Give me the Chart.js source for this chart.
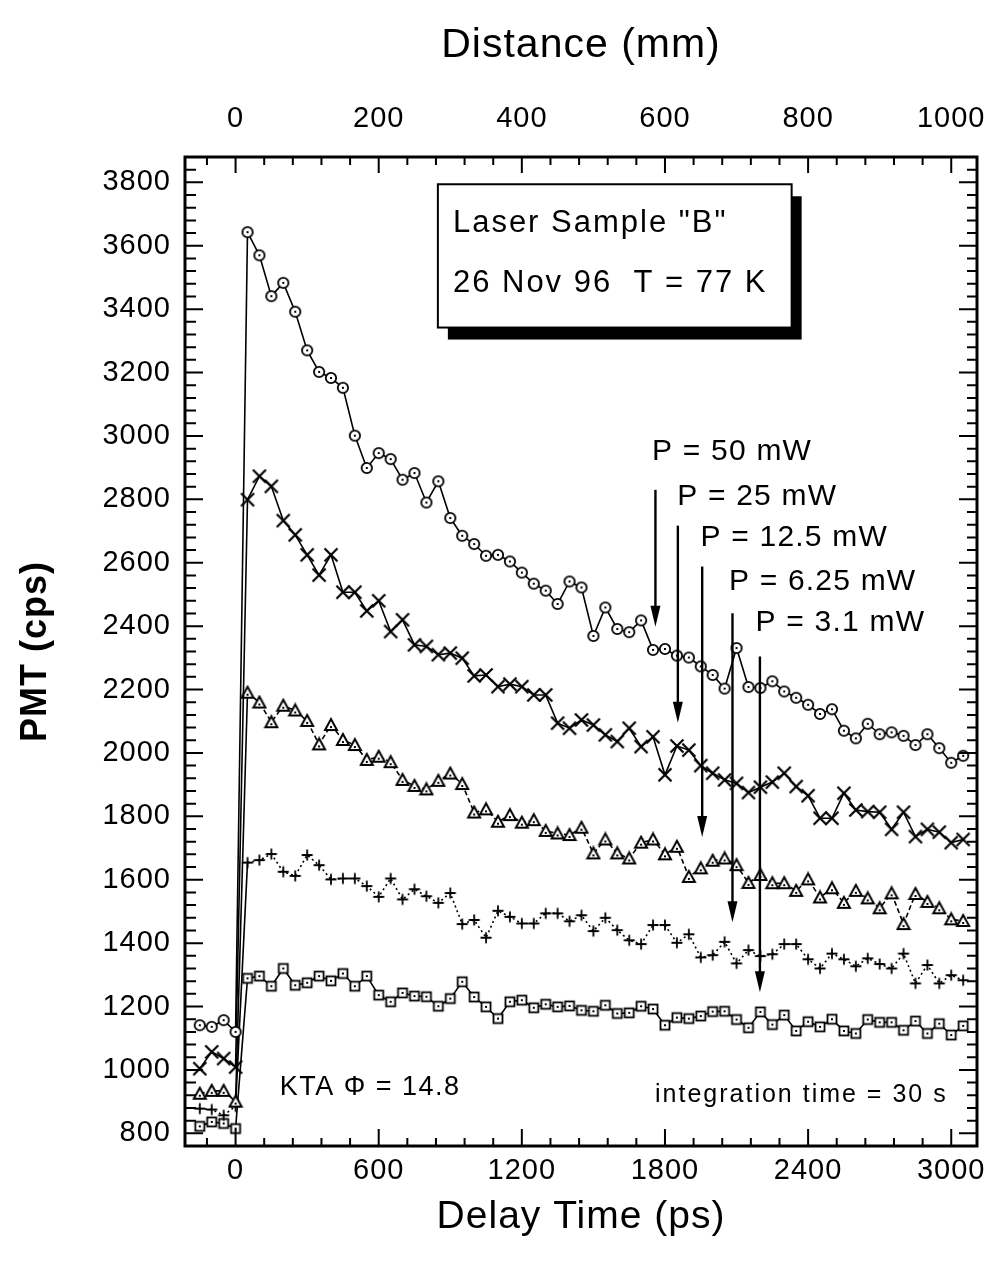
<!DOCTYPE html>
<html><head><meta charset="utf-8">
<script src="https://cdn.jsdelivr.net/npm/chart.js@4/dist/chart.umd.min.js"></script>
<style>html,body{margin:0;padding:0;background:#fff}canvas{display:block}</style>
</head><body>
<canvas id="c" width="992" height="1268"></canvas>
<script>
// ---------------- DATA ----------------
const delays = [-150,-100,-50,0,50,100,150,200,250,300,350,400,450,500,550,600,650,700,750,800,850,900,950,1000,1050,1100,1150,1200,1250,1300,1350,1400,1450,1500,1550,1600,1650,1700,1750,1800,1850,1900,1950,2000,2050,2100,2150,2200,2250,2300,2350,2400,2450,2500,2550,2600,2650,2700,2750,2800,2850,2900,2950,3000,3050];
const p50 = [1141,1136,1157,1120,3643,3570,3441,3483,3392,3270,3202,3183,3152,3001,2899,2946,2927,2862,2883,2790,2857,2741,2685,2659,2622,2625,2604,2569,2534,2512,2470,2541,2522,2369,2459,2391,2381,2418,2325,2328,2307,2301,2273,2246,2203,2331,2208,2205,2226,2194,2174,2152,2123,2138,2070,2046,2092,2059,2065,2054,2025,2059,2015,1969,1991];
const p25 = [1004,1057,1036,1009,2799,2873,2841,2733,2688,2625,2561,2625,2507,2507,2448,2480,2383,2420,2341,2336,2310,2315,2299,2243,2246,2209,2217,2209,2183,2183,2094,2078,2104,2088,2057,2036,2078,2020,2051,1931,2022,2009,1960,1936,1915,1904,1875,1892,1908,1936,1894,1865,1794,1794,1873,1820,1815,1813,1759,1813,1736,1759,1750,1717,1727];
const p12 = [925,934,934,900,2190,2159,2097,2149,2134,2101,2027,2088,2041,2025,1978,1988,1971,1915,1896,1885,1912,1935,1902,1812,1822,1783,1804,1780,1788,1754,1746,1741,1764,1683,1727,1683,1667,1717,1727,1680,1704,1609,1636,1660,1667,1646,1590,1615,1589,1589,1565,1601,1544,1573,1527,1565,1541,1510,1557,1460,1555,1530,1510,1475,1470];
const p6 = [878,875,857,885,1654,1662,1681,1625,1612,1678,1646,1601,1604,1604,1580,1546,1604,1538,1570,1548,1527,1558,1460,1473,1417,1502,1483,1462,1462,1494,1494,1469,1488,1438,1480,1441,1409,1397,1457,1457,1401,1428,1355,1362,1404,1336,1378,1359,1365,1397,1397,1349,1320,1367,1349,1327,1352,1334,1320,1367,1273,1331,1273,1299,1283];
const p3 = [822,836,831,815,1289,1296,1264,1320,1267,1275,1296,1281,1304,1264,1296,1236,1215,1243,1233,1231,1201,1225,1278,1230,1199,1162,1215,1220,1196,1207,1199,1202,1188,1185,1204,1178,1180,1201,1192,1141,1165,1162,1170,1184,1185,1159,1133,1183,1143,1173,1123,1152,1136,1160,1123,1115,1159,1150,1150,1125,1154,1115,1146,1110,1139];

const xTicksBottom = [0,600,1200,1800,2400,3000];
const xTicksTop = [0,200,400,600,800,1000];
const yTicks = [800,1000,1200,1400,1600,1800,2000,2200,2400,2600,2800,3000,3200,3400,3600,3800];

const arrowLabels = ['P = 50 mW','P = 25 mW','P = 12.5 mW','P = 6.25 mW','P = 3.1 mW'];
const labelX = [1746,1851,1949,2068,2180];
const labelY = [2949,2809,2678,2541,2410];
const arrowX = [1760,1854,1956,2083,2198];
const arrowTop = [2830,2717,2588,2441,2304];
const arrowTip = [2398,2095,1735,1466,1245];

const boxLines = ['Laser Sample "B"','26 Nov 96  T = 77 K'];
const boxX = [848,2331];
const boxY = [3794,3342];
const boxTextX = 911;
const boxTextY = [3670,3481];
const ktaText = 'KTA \u03A6 = 14.8';
const ktaPos = [185,945];
const integText = 'integration time = 30 s';
const integPos = [2985,920];

// ---------------- STYLE ----------------
const FONT = '"Liberation Sans", Arial, Helvetica, sans-serif';
function mk(size, draw){const c=document.createElement('canvas');c.width=size;c.height=size;const g=c.getContext('2d');g.strokeStyle='#000';g.fillStyle='#fff';draw(g,size/2);return c;}
const circleImg = mk(14,(g,m)=>{g.lineWidth=1.8;g.beginPath();g.arc(m,m,5.2,0,2*Math.PI);g.fill();g.stroke();g.fillStyle='#000';g.fillRect(m-1,m-1,2,2);});
const crossImg = mk(16,(g,m)=>{g.lineWidth=2.2;g.beginPath();g.moveTo(m-6.5,m-6.5);g.lineTo(m+6.5,m+6.5);g.moveTo(m+6.5,m-6.5);g.lineTo(m-6.5,m+6.5);g.stroke();});
const triImg = mk(16,(g,m)=>{g.lineWidth=2;g.beginPath();g.moveTo(m,m-6);g.lineTo(m+6,m+5);g.lineTo(m-6,m+5);g.closePath();g.fill();g.stroke();g.fillStyle='#000';g.fillRect(m-1,m+1,2,2);});
const plusImg = mk(14,(g,m)=>{g.lineWidth=1.8;g.beginPath();g.moveTo(m-5.5,m);g.lineTo(m+5.5,m);g.moveTo(m,m-5.5);g.lineTo(m,m+5.5);g.stroke();});
const sqImg = mk(14,(g,m)=>{g.lineWidth=1.8;g.fillRect(m-4.5,m-4.5,9,9);g.strokeRect(m-4.5,m-4.5,9,9);g.fillStyle='#000';g.fillRect(m-1,m-1,2,2);});

function ds(vals, img, dash){
  return {
    data: delays.map((d,i)=>({x:d,y:vals[i]})),
    xAxisID:'x', yAxisID:'y',
    borderColor:'#000', borderWidth:1.6, tension:0, fill:false,
    pointStyle:img, pointRadius:6, pointHoverRadius:6,
    segment: dash ? {borderDash: c => (c.p0DataIndex === 3 ? [] : dash)} : undefined
  };
}

const tickFont = {family:FONT, size:29};
const numCb = v => String(v);
const noPadH = s => { s.paddingLeft = 0; s.paddingRight = 0; };
const noPadV = s => { s.paddingTop = 0; s.paddingBottom = 0; };

const framePlugin = {
  id:'frame',
  beforeDraw(chart){ chart.ctx.letterSpacing='1px'; },
  afterDatasetsDraw(chart){
    const {ctx, scales:{x,y}} = chart;
    ctx.save();
    ctx.letterSpacing='0px';
    // info box with shadow
    const bx1=x.getPixelForValue(boxX[0]), bx2=x.getPixelForValue(boxX[1]);
    const by1=y.getPixelForValue(boxY[0]), by2=y.getPixelForValue(boxY[1]);
    ctx.fillStyle='#000';
    ctx.fillRect(bx1+10, by1+12, bx2-bx1, by2-by1);
    ctx.fillStyle='#fff';
    ctx.fillRect(bx1, by1, bx2-bx1, by2-by1);
    ctx.strokeStyle='#000'; ctx.lineWidth=2;
    ctx.strokeRect(bx1, by1, bx2-bx1, by2-by1);
    ctx.fillStyle='#000';
    ctx.textBaseline='middle'; ctx.textAlign='left';
    ctx.font='31px '+FONT; ctx.letterSpacing='2px';
    boxLines.forEach((t,i)=>ctx.fillText(t, x.getPixelForValue(boxTextX), y.getPixelForValue(boxTextY[i])));
    // arrows
    ctx.letterSpacing='1.2px';
    ctx.font='30px '+FONT;
    arrowLabels.forEach((t,i)=>ctx.fillText(t, x.getPixelForValue(labelX[i]), y.getPixelForValue(labelY[i])));
    ctx.lineWidth=2.4;
    arrowX.forEach((ax,i)=>{
      const px=x.getPixelForValue(ax), pt=y.getPixelForValue(arrowTop[i]), pb=y.getPixelForValue(arrowTip[i]);
      ctx.beginPath(); ctx.moveTo(px,pt); ctx.lineTo(px,pb-18); ctx.stroke();
      ctx.beginPath(); ctx.moveTo(px-5,pb-21); ctx.lineTo(px+5,pb-21); ctx.lineTo(px,pb); ctx.closePath(); ctx.fill();
    });
    // notes
    ctx.font='27px '+FONT; ctx.letterSpacing='1.5px';
    ctx.fillText(ktaText, x.getPixelForValue(ktaPos[0]), y.getPixelForValue(ktaPos[1]));
    ctx.font='25px '+FONT; ctx.letterSpacing='2px'; ctx.textAlign='right';
    ctx.fillText(integText, x.getPixelForValue(integPos[0]), y.getPixelForValue(integPos[1]));
    ctx.restore();
  },
  afterDraw(chart){
    const {ctx, chartArea:{left,right,top,bottom}, scales} = chart;
    ctx.save();
    ctx.strokeStyle='#000';
    ctx.lineWidth=2;
    const xs=scales.x, xt=scales.x2, ys=scales.y;
    function tickLoop(scale, step, fn){
      const start=Math.ceil(scale.min/step)*step;
      for(let v=start; v<=scale.max+1e-6; v+=step) fn(scale.getPixelForValue(v), Math.abs(v/(step*5)-Math.round(v/(step*5)))<1e-6);
    }
    ctx.beginPath();
    tickLoop(xs,120,(p,maj)=>{ctx.moveTo(p,bottom);ctx.lineTo(p,bottom-(maj?17:8));});
    tickLoop(xt,40,(p,maj)=>{ctx.moveTo(p,top);ctx.lineTo(p,top+(maj?16:8));});
    tickLoop(ys,40,(p,maj)=>{ctx.moveTo(left,p);ctx.lineTo(left+(maj?18:11),p);ctx.moveTo(right,p);ctx.lineTo(right-(maj?18:10),p);});
    ctx.stroke();
    ctx.lineWidth=3;
    ctx.strokeRect(left,top,right-left,bottom-top);
    ctx.restore();
  }
};

new Chart(document.getElementById('c'), {
  type:'line',
  data:{datasets:[
    ds(p50, circleImg, null),
    ds(p25, crossImg, null),
    ds(p12, triImg, [5,3]),
    ds(p6, plusImg, [2,3]),
    ds(p3, sqImg, null)
  ]},
  options:{
    responsive:false, animation:false, devicePixelRatio:1,
    layout:{padding:0},
    plugins:{legend:{display:false}, tooltip:{enabled:false}},
    scales:{
      x:{type:'linear', position:'bottom', min:-212, max:3108,
        afterBuildTicks:s=>{s.ticks=xTicksBottom.map(v=>({value:v}));},
        ticks:{font:tickFont, color:'#000', padding:8, maxRotation:0, autoSkip:false, callback:numCb},
        grid:{display:false, drawTicks:false}, border:{display:false},
        title:{display:true, text:'Delay Time (ps)', color:'#000', font:{family:FONT, size:39}, padding:{top:0,bottom:27}},
        afterFit:s=>{s.height=122; noPadH(s);}},
      x2:{type:'linear', position:'top', min:-212/3, max:3108/3,
        afterBuildTicks:s=>{s.ticks=xTicksTop.map(v=>({value:v}));},
        ticks:{font:tickFont, color:'#000', padding:21, maxRotation:0, autoSkip:false, callback:numCb},
        grid:{display:false, drawTicks:false}, border:{display:false},
        title:{display:true, text:'Distance (mm)', color:'#000', font:{family:FONT, size:41}, padding:{top:21,bottom:0}},
        afterFit:s=>{s.height=157; noPadH(s);}},
      y:{type:'linear', position:'left', min:760, max:3880,
        afterBuildTicks:s=>{s.ticks=yTicks.map(v=>({value:v}));},
        ticks:{font:tickFont, color:'#000', padding:14, autoSkip:false, callback:numCb},
        grid:{display:false, drawTicks:false}, border:{display:false},
        title:{display:true, text:'PMT (cps)', color:'#000', font:{family:FONT, size:36, weight:'bold'}, padding:{top:14,bottom:0}},
        afterFit:s=>{s.width=185; noPadV(s);}},
      y2:{type:'linear', position:'right', min:760, max:3880,
        ticks:{display:false}, grid:{display:false, drawTicks:false}, border:{display:false},
        afterFit:s=>{s.width=15; noPadV(s);}}
    }
  },
  plugins:[framePlugin]
});
</script>
</body></html>
